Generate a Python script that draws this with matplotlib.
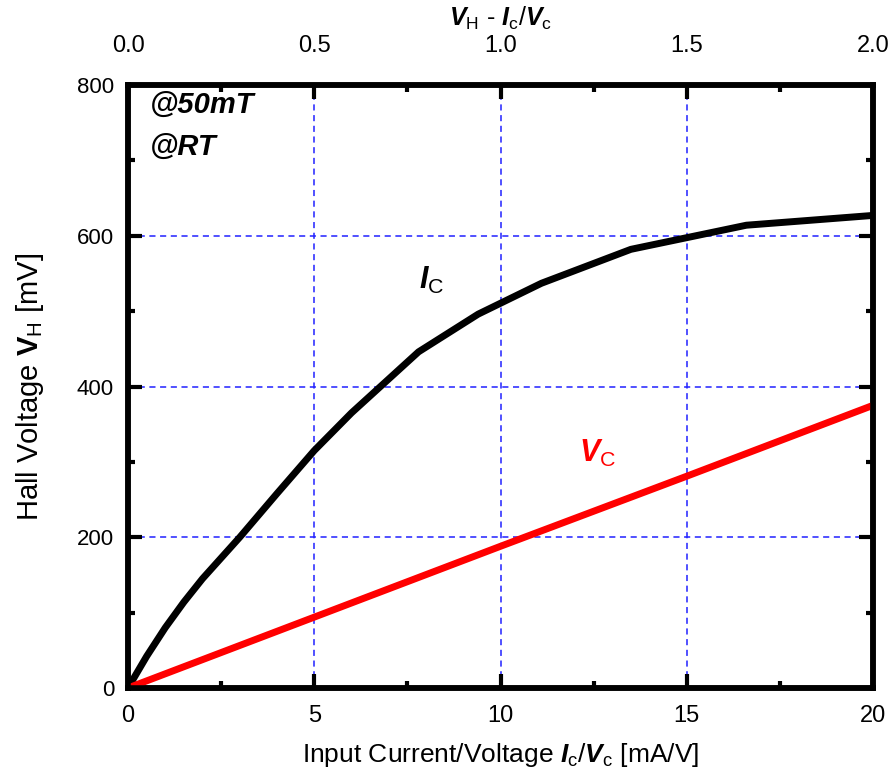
import matplotlib
matplotlib.use("Agg")
import matplotlib.pyplot as plt
from matplotlib.ticker import MultipleLocator

plt.rcParams["font.family"] = ["Liberation Sans", "DejaVu Sans"]
plt.rcParams["mathtext.fontset"] = "custom"
plt.rcParams["mathtext.rm"] = "Liberation Sans"
plt.rcParams["mathtext.it"] = "Liberation Sans:italic"
plt.rcParams["mathtext.bf"] = "Liberation Sans:bold"
plt.rcParams["mathtext.bfit"] = "Liberation Sans:bold:italic"

# data
ic_x = [0, 0.5, 1, 1.5, 2, 3, 4, 5, 6, 7, 7.8, 9.4, 11.1, 13.5, 16.6, 20]
ic_y = [0, 42, 80, 114, 145, 200, 258, 315, 365, 410, 446, 496, 537, 582, 614, 627]
vc_x = [0, 5, 10, 15, 20]
vc_y = [0, 94, 188, 281, 375]

x_ticks = [0, 5, 10, 15, 20]
y_ticks = [0, 200, 400, 600, 800]
top_ticks = [0.0, 0.5, 1.0, 1.5, 2.0]
grid_color = "#2020ff"

fig = plt.figure(figsize=(8.92, 7.78), dpi=100)
ax = fig.add_axes([0.1435, 0.1157, 0.8352, 0.775])

for xv in x_ticks[1:-1]:
    ax.axvline(xv, color=grid_color, lw=1.1, ls=(0, (4, 3)), zorder=1)
for yv in y_ticks[1:-1]:
    ax.axhline(yv, color=grid_color, lw=1.1, ls=(0, (4, 3)), zorder=1)

ax.plot(ic_x, ic_y, color="black", lw=5, zorder=3, solid_capstyle="butt",
        solid_joinstyle="round")
ax.plot(vc_x, vc_y, color="red", lw=5, zorder=3, solid_capstyle="butt")

ax.set_xlim(0, 20)
ax.set_ylim(0, 800)
ax.set_xticks(x_ticks)
ax.set_yticks(y_ticks)
ax.xaxis.set_minor_locator(MultipleLocator(2.5))
ax.yaxis.set_minor_locator(MultipleLocator(100))
ax.tick_params(which="both", direction="in", top=False, right=True, width=3)
ax.tick_params(which="major", length=10)
ax.tick_params(which="minor", length=5)
ax.tick_params(axis="x", labelsize=17, pad=12)
ax.tick_params(axis="y", labelsize=16, pad=10)
for s in ax.spines.values():
    s.set_linewidth(4)

top = ax.twiny()
top.set_xlim(0, 2)
top.set_xticks(top_ticks)
top.set_xticklabels([f"{t:.1f}" for t in top_ticks])
top.xaxis.set_minor_locator(MultipleLocator(0.25))
top.tick_params(which="both", direction="in", width=3, labelsize=17, pad=20)
top.tick_params(which="major", length=10)
top.tick_params(which="minor", length=5)
for s in top.spines.values():
    s.set_linewidth(4)

ax.set_xlabel(r"Input Current/Voltage $\mathbfit{I}_{\mathrm{c}}/\mathbfit{V}_{\mathrm{c}}$ [mA/V]",
              fontsize=19, labelpad=10)
ax.set_ylabel(r"Hall Voltage $\mathbf{V}_{\mathrm{H}}$ [mV]", fontsize=21, labelpad=22)
top.set_xlabel(r"$\mathbfit{V}_{\mathrm{H}}$ - $\mathbfit{I}_{\mathrm{c}}/\mathbfit{V}_{\mathrm{c}}$",
               fontsize=18, labelpad=7)

ax.text(0.03, 0.99, "@50mT", transform=ax.transAxes, fontsize=21,
        fontweight="bold", fontstyle="italic", va="top", ha="left")
ax.text(0.03, 0.92, "@RT", transform=ax.transAxes, fontsize=21,
        fontweight="bold", fontstyle="italic", va="top", ha="left")
ax.text(7.8, 530, r"$\mathbfit{I}_{\mathrm{C}}$", fontsize=22, color="black", zorder=4)
ax.text(12.1, 300, r"$\mathbfit{V}_{\mathrm{C}}$", fontsize=22, color="red", zorder=4)

fig.savefig("out.png", dpi=100)
